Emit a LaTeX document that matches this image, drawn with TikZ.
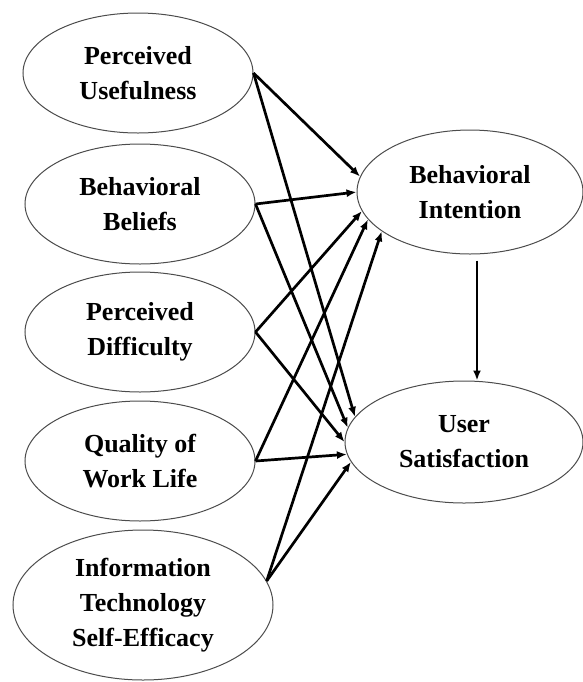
\documentclass[tikz,border=0pt]{standalone}
\usepackage{fontspec}
\setmainfont{Liberation Serif}
\usetikzlibrary{shapes,arrows.meta}

\begin{document}
\begin{tikzpicture}[x=0.5pt,y=-0.5pt]
\tikzstyle{every node}+=[inner sep=0pt]
\tikzstyle{construct}=[draw=black!70, line width=0.5pt, ellipse, minimum width=115pt, minimum height=60pt, align=center, font=\fontsize{13}{17.5}\selectfont\bfseries]
\tikzstyle{link}=[line width=1.35pt, -{Latex[length=5pt,width=4pt]}]
\useasboundingbox (0,0) rectangle (583,682);
\node [construct] (pu) at (138,73) {Perceived\\Usefulness};
\node [construct] (bb) at (140,204) {Behavioral\\Beliefs};
\node [construct] (pd) at (140,332) {Perceived\\Difficulty};
\node [construct] (qwl) at (140,461) {Quality of\\Work Life};
\node [construct, minimum width=130pt, minimum height=75pt] (itse) at (143,605) {Information\\Technology\\Self-Efficacy};
\node [construct, minimum width=113pt, minimum height=62pt] (bi) at (470,192) {Behavioral\\Intention};
\node [construct, minimum width=119pt, minimum height=61pt] (us) at (464,442) {User\\Satisfaction};
\draw [link] (pu.east) -- (bi.172);
\draw [link] (pu.east) -- (us.167);
\draw [link] (bb.east) -- (bi.180);
\draw [link] (bb.east) -- (us.173);
\draw [link] (pd.east) -- (bi.190);
\draw [link] (pd.east) -- (us.180);
\draw [link] (qwl.east) -- (bi.195);
\draw [link] (qwl.east) -- (us.186);
\draw [link] (itse.11) -- (bi.204);
\draw [link] (itse.11) -- (us.190);
\coordinate (bitail) at ([xshift=3.5pt,yshift=-3pt]bi.south);
\draw [link] (bitail) -- (bitail |- us.north);
\end{tikzpicture}
\end{document}
